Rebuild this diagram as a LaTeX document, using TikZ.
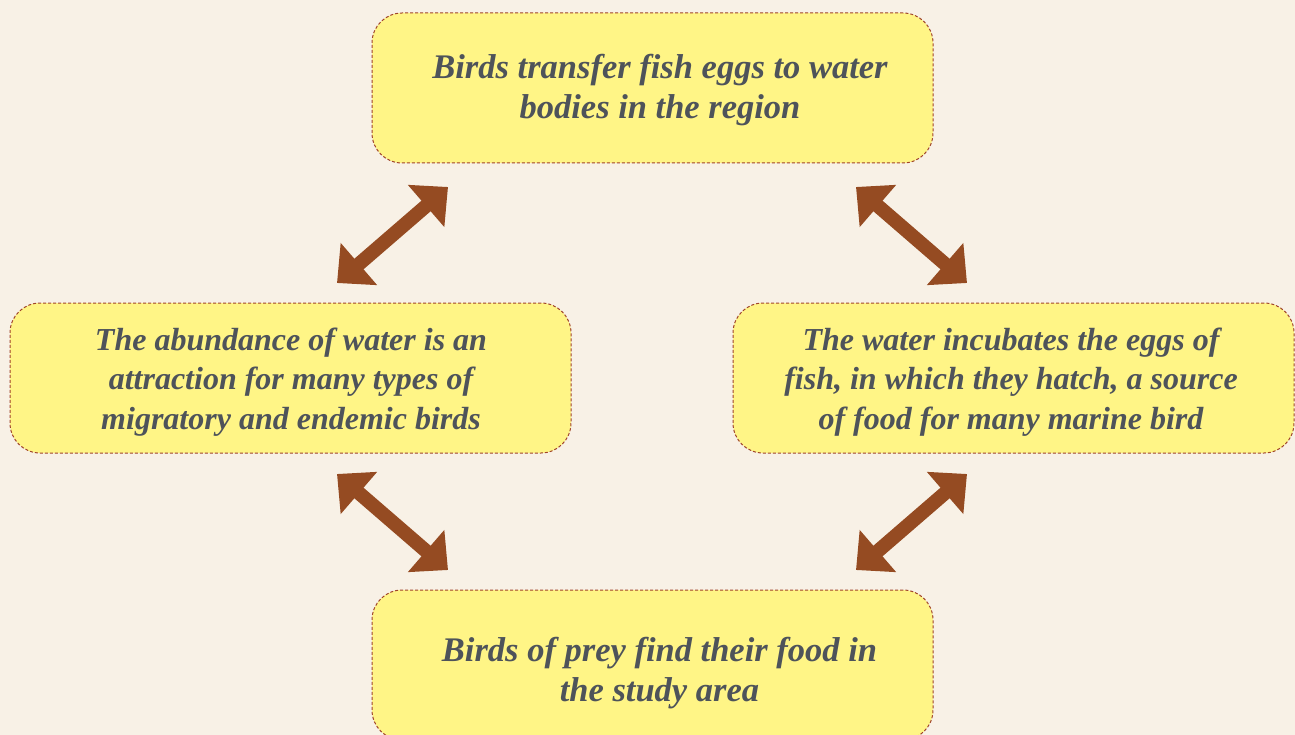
\documentclass[tikz,border=0pt]{standalone}
\usepackage{fontspec}
\setmainfont{Liberation Serif}
\usetikzlibrary{arrows.meta}
\definecolor{bgcol}{HTML}{F8F1E6}
\definecolor{boxfill}{HTML}{FFF586}
\definecolor{boxline}{HTML}{A0442A}
\definecolor{txtcol}{HTML}{4E535A}
\definecolor{arrcol}{HTML}{954B22}
\tikzset{
  infobox/.style={draw=boxline, fill=boxfill, dash pattern=on 3pt off 2pt, line width=1pt,
    rounded corners=30pt, minimum width=561pt, minimum height=150pt, inner sep=0pt},
  boxtext/.style={text=txtcol, align=center, font=\fontsize{34.5}{39.5}\selectfont\bfseries\itshape},
  sidetext/.style={boxtext, font=\fontsize{32}{39.5}\selectfont\bfseries\itshape},
  dblarrow/.style={draw=arrcol, line width=14pt,
    {Triangle[length=29pt,width=54pt]}-{Triangle[length=29pt,width=54pt]}}
}
\begin{document}
\begin{tikzpicture}[x=1pt,y=-1pt]
\useasboundingbox[fill=bgcol] (0,0) rectangle (1295,735);
% boxes
\node[infobox] (top) at (652.5,88) {};
\node[infobox] (left) at (290.5,378) {};
\node[infobox] (right) at (1013.5,378) {};
\node[infobox] (bottom) at (652.5,665) {};
% texts
\node[boxtext] (ttop) at (660,90) {Birds transfer fish eggs to water\\bodies in the region};
\node[sidetext] (tleft) at (291,382) {The abundance of water is an\\attraction for many types of\\migratory and endemic birds};
\node[sidetext] (tright) at (1011,382) {The water incubates the eggs of\\fish, in which they hatch, a source\\of food for many marine bird};
\node[boxtext] (tbottom) at (659.5,673) {Birds of prey find their food in\\the study area};
% arrow ends
\coordinate (a1s) at (337,283);
\coordinate (a1e) at (448,187);
\coordinate (a2s) at (856,187);
\coordinate (a2e) at (967,283);
\coordinate (a3s) at (337,474);
\coordinate (a3e) at (448,570);
\coordinate (a4s) at (967,474);
\coordinate (a4e) at (856,570);
\draw[dblarrow] (a1s) -- (a1e);
\draw[dblarrow] (a2s) -- (a2e);
\draw[dblarrow] (a3s) -- (a3e);
\draw[dblarrow] (a4s) -- (a4e);
\end{tikzpicture}
\end{document}
